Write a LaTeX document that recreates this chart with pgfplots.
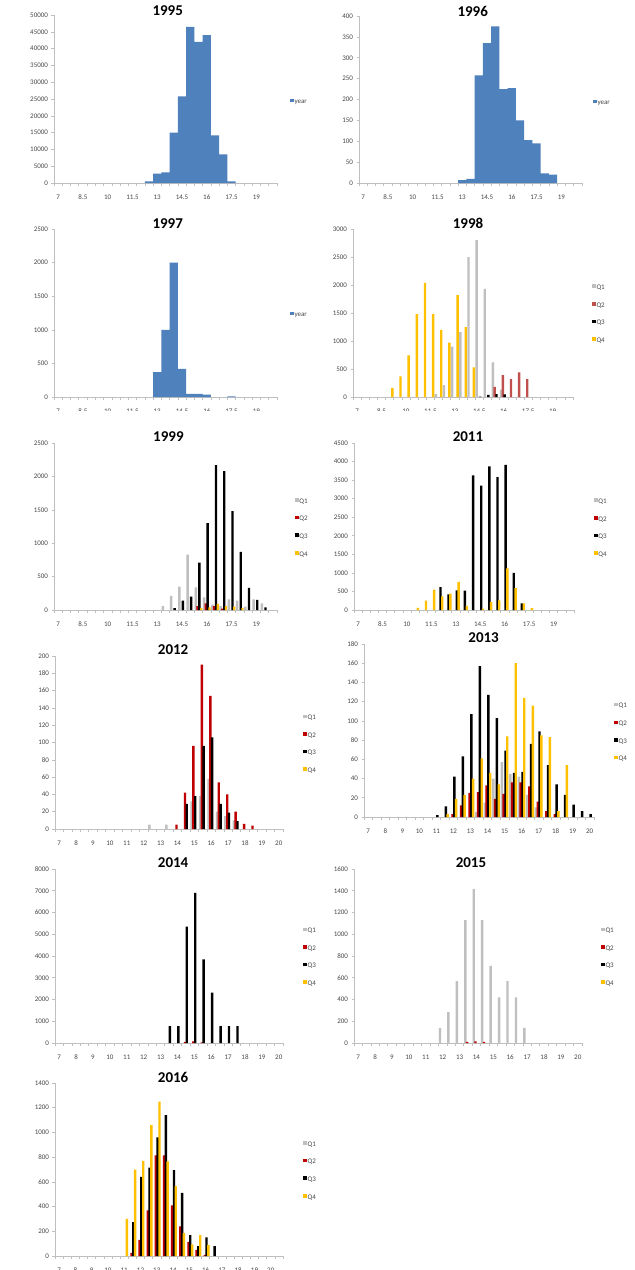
\documentclass[border=0pt]{standalone}
\usepackage{fontspec}
\setmainfont{Carlito}
\usepackage{pgfplots}
\pgfplotsset{compat=1.18}

\definecolor{xlblue}{HTML}{4F81BD}
\definecolor{qgray}{HTML}{BFBFBF}
\definecolor{qred}{HTML}{C00000}
\definecolor{qredlight}{HTML}{C0504D}
\definecolor{qgold}{HTML}{FFC000}
\definecolor{axisgray}{HTML}{BFBFBF}
\definecolor{ticktext}{HTML}{474747}

\pgfplotsset{
  panel/.style={
    scale only axis,
    anchor=south west,
    axis x line*=bottom,
    axis y line*=left,
    axis line style={draw=axisgray, line width=0.7pt, -},
    every tick/.style={draw=axisgray, line width=0.6pt},
    tick align=outside,
    major tick length=2.5pt,
    xmin=6.75, xmax=20.25, ymin=0,
    xtick={6.75,7.25,...,20.25},
    xticklabels={},
    extra x tick style={major tick length=0pt},
    scaled y ticks=false,
    yticklabel={\pgfmathprintnumber[fixed,precision=0,1000 sep={},assume math mode=true]{\tick}},
    tick label style={font=\fontsize{7}{8}\selectfont, text=ticktext},
    xticklabel style={yshift=-8.5pt},
    title style={font=\bfseries\fontsize{15}{15}\selectfont, anchor=center, text=black},
    legend style={draw=none, fill=none, inner sep=0pt, anchor=west,
      font=\fontsize{7}{8}\selectfont, text=ticktext, row sep=10pt,
      nodes={inner sep=0.8pt}},
    legend cell align=left,
    legend image code/.code={\fill[##1] (0pt,0pt) rectangle (3.6pt,3.6pt);},
  },
  halfticks/.style={
    extra x ticks={7,8.5,10,11.5,13,14.5,16,17.5,19},
    extra x tick labels={7,8.5,10,11.5,13,14.5,16,17.5,19},
  },
  unitticks/.style={
    extra x ticks={7,8,...,20},
    extra x tick labels={7,8,9,10,11,12,13,14,15,16,17,18,19,20},
  },
  hist/.style={ybar, bar width=0.5, bar shift=0pt, fill=xlblue, draw=none, forget plot},
  qbar/.style={ybar, bar width=2.4pt, draw=none, forget plot},
  q1/.style={qbar, bar shift=-2.7pt, fill=qgray},
  q2/.style={qbar, bar shift=-0.9pt, fill=qred},
  q3/.style={qbar, bar shift=0.9pt, fill=black},
  q4/.style={qbar, bar shift=2.7pt, fill=qgold},
}

\newcommand{\quarterlegend}[1]{%
  \addlegendimage{fill=qgray, draw=none}\addlegendentry{Q1}
  \addlegendimage{fill=#1, draw=none}\addlegendentry{Q2}
  \addlegendimage{fill=black, draw=none}\addlegendentry{Q3}
  \addlegendimage{fill=qgold, draw=none}\addlegendentry{Q4}}

\begin{document}
\begin{tikzpicture}
\fill[white, use as bounding box] (0pt,0pt) rectangle (635pt,-1270pt);

% ---------------- 1995 ----------------
\begin{axis}[panel, halfticks, at={(54pt,-183pt)}, width=223pt, height=168pt,
  ymax=50000, ytick={0,5000,...,50000},
  title={1995}, title style={at={(0.51,0.988)}},
  legend style={at={(1.058,0.482)}}]
\addplot[hist] coordinates {(12.5,500) (13,2800) (13.5,3200) (14,15000) (14.5,25800)
  (15,46500) (15.5,42000) (16,44000) (16.5,14200) (17,8500) (17.5,500)};
\addlegendimage{fill=xlblue, draw=none}\addlegendentry{year}
\end{axis}

% ---------------- 1996 ----------------
\begin{axis}[panel, halfticks, at={(359pt,-183pt)}, width=223pt, height=167pt,
  ymax=400, ytick={0,50,...,400},
  title={1996}, title style={at={(0.51,0.994)}},
  legend style={at={(1.049,0.479)}}]
\addplot[hist] coordinates {(13,7) (13.5,10) (14,258) (14.5,335) (15,375) (15.5,225)
  (16,227) (16.5,150) (17,103) (17.5,95) (18,23) (18.5,20)};
\addlegendimage{fill=xlblue, draw=none}\addlegendentry{year}
\end{axis}

% ---------------- 1997 ----------------
\begin{axis}[panel, halfticks, at={(54pt,-397pt)}, width=223pt, height=168pt,
  ymax=2500, ytick={0,500,...,2500},
  title={1997}, title style={at={(0.51,0.994)}},
  legend style={at={(1.058,0.488)}}]
\addplot[hist] coordinates {(13,370) (13.5,1000) (14,2000) (14.5,420) (15,45)
  (15.5,45) (16,35) (17.5,8)};
\addlegendimage{fill=xlblue, draw=none}\addlegendentry{year}
\end{axis}

% ---------------- 1998 ----------------
\begin{axis}[panel, halfticks, at={(353pt,-397pt)}, width=220pt, height=168pt,
  ymax=3000, ytick={0,500,...,3000},
  title={1998}, title style={at={(0.523,1.0)}},
  legend style={at={(1.086,0.491)}}]
\addplot[q1] coordinates {(12,50) (12.5,210) (13,900) (13.5,1160) (14,2500)
  (14.5,2800) (15,1930) (15.5,620) (16,130)};
\addplot[q2, fill=qredlight] coordinates {(15.5,180) (16,390) (16.5,320) (17,440) (17.5,320)};
\addplot[q3] coordinates {(14.5,5) (15,40) (15.5,50) (16,45)};
\addplot[q4] coordinates {(9,165) (9.5,370) (10,745) (10.5,1480) (11,2040) (11.5,1480)
  (12,1200) (12.5,970) (13,1820) (13.5,1250) (14,530)};
\quarterlegend{qredlight}
\end{axis}

% label strip below the second row
\fill[white] (0pt,-411pt) rectangle (635pt,-418pt);

% ---------------- 1999 ----------------
\begin{axis}[panel, halfticks, at={(54pt,-610pt)}, width=223pt, height=167pt,
  ymax=2500, ytick={0,500,...,2500},
  title={1999}, title style={at={(0.513,1.0)}},
  legend style={at={(1.08,0.49)}}]
\addplot[q1] coordinates {(13.5,60) (14,210) (14.5,350) (15,830) (15.5,340) (16,190)
  (16.5,80) (17,60) (17.5,160) (18,140) (18.5,50) (19,160) (19.5,100)};
\addplot[q2] coordinates {(15.5,60) (16,100) (16.5,60) (17,20)};
\addplot[q3] coordinates {(14,30) (14.5,140) (15,200) (15.5,710) (16,1300) (16.5,2170)
  (17,2080) (17.5,1480) (18,870) (18.5,330) (19,150) (19.5,40)};
\addplot[q4] coordinates {(15.5,30) (16,40) (16.5,90) (17,60) (17.5,50) (18,30)};
\quarterlegend{qred}
\end{axis}

% ---------------- 2011 ----------------
\begin{axis}[panel, halfticks, at={(354pt,-610pt)}, width=220pt, height=167pt,
  ymax=4500, ytick={0,500,...,4500},
  title={2011}, title style={at={(0.518,1.0)}},
  legend style={at={(1.09,0.488)}}]
\addplot[q3] coordinates {(12,620) (12.5,420) (13,530) (13.5,520) (14,3630) (14.5,3350)
  (15,3870) (15.5,3580) (16,3910) (16.5,1000) (17,180)};
\addplot[q4] coordinates {(10.5,60) (11,250) (11.5,550) (12,370) (12.5,440) (13,760)
  (13.5,110) (14.5,40) (15,210) (15.5,260) (16,1120) (16.5,590) (17,180) (17.5,50)};
\quarterlegend{qred}
\end{axis}

% ---------------- 2012 ----------------
\begin{axis}[panel, unitticks, at={(55pt,-829pt)}, width=228pt, height=173pt,
  ymax=200, ytick={0,20,...,200},
  title={2012}, title style={at={(0.518,1.005)}},
  legend style={at={(1.088,0.488)}}]
\addplot[q1] coordinates {(12.5,5) (13.5,5) (15,32) (15.5,38) (16,58) (16.5,20)
  (17,15) (17.5,10)};
\addplot[q2] coordinates {(14,5) (14.5,42) (15,96) (15.5,190) (16,154) (16.5,54)
  (17,40) (17.5,20) (18,6) (18.5,4)};
\addplot[q3] coordinates {(14.5,29) (15,38) (15.5,96) (16,106) (16.5,29) (17,19) (17.5,9)};
\quarterlegend{qred}
\end{axis}

% ---------------- 2013 ----------------
\begin{axis}[panel, unitticks, at={(364pt,-817pt)}, width=230pt, height=173pt,
  ymax=180, ytick={0,20,...,180},
  title={2013}, title style={at={(0.52,1.0)}},
  legend style={at={(1.087,0.486)}}]
\addplot[q1] coordinates {(13.5,5) (14,15) (14.5,40) (15,57) (15.5,45) (16,42)
  (16.5,23) (17,10)};
\addplot[q2] coordinates {(12,3) (12.5,12) (13,25) (13.5,26) (14,33) (14.5,19) (15,24)
  (15.5,36) (16,36) (16.5,32) (17,16) (17.5,6) (18,3)};
\addplot[q3] coordinates {(11,2) (11.5,11) (12,42) (12.5,63) (13,107) (13.5,157)
  (14,127) (14.5,103) (15,69) (15.5,46) (16,47) (16.5,76) (17,89) (17.5,54) (18,34)
  (18.5,23) (19,13) (19.5,6) (20,3)};
\addplot[q4] coordinates {(11.5,3) (12,19) (12.5,23) (13,40) (13.5,61) (14,46) (14.5,34)
  (15,84) (15.5,160) (16,124) (16.5,116) (17,85) (17.5,83) (18,6) (18.5,54)};
\quarterlegend{qred}
\end{axis}

% label strip below the 2012 panel
\fill[white] (0pt,-845pt) rectangle (315pt,-850pt);

% ---------------- 2014 ----------------
\begin{axis}[panel, unitticks, at={(55pt,-1043pt)}, width=228pt, height=174pt,
  ymax=8000, ytick={0,1000,...,8000},
  title={2014}, title style={at={(0.518,1.0)}},
  legend style={at={(1.088,0.491)}}]
\addplot[q2] coordinates {(14.5,50) (15,80) (15.5,30)};
\addplot[q3] coordinates {(13.5,780) (14,780) (14.5,5350) (15,6900) (15.5,3850)
  (16,2320) (16.5,780) (17,780) (17.5,780)};
\quarterlegend{qred}
\end{axis}

% ---------------- 2015 ----------------
\begin{axis}[panel, unitticks, at={(354pt,-1043pt)}, width=228pt, height=174pt,
  ymax=1600, ytick={0,200,...,1600},
  title={2015}, title style={at={(0.513,1.0)}},
  legend style={at={(1.083,0.491)}}]
\addplot[q1] coordinates {(12,140) (12.5,285) (13,570) (13.5,1130) (14,1415) (14.5,1130)
  (15,710) (15.5,420) (16,570) (16.5,420) (17,140)};
\addplot[q2] coordinates {(13.5,10) (14,15) (14.5,10)};
\quarterlegend{qred}
\end{axis}

% ---------------- 2016 ----------------
\begin{axis}[panel, unitticks, at={(55pt,-1256pt)}, width=228pt, height=173pt,
  xmax=20.75, xtick={6.75,7.25,...,20.75},
  ymax=1400, ytick={0,200,...,1400},
  title={2016}, title style={at={(0.518,1.0)}},
  legend style={at={(1.088,0.491)}}]
\addplot[q2] coordinates {(11.5,25) (12,130) (12.5,370) (13,815) (13.5,815) (14,410)
  (14.5,240) (15,115) (15.5,50) (16,10)};
\addplot[q3] coordinates {(11.5,275) (12,640) (12.5,715) (13,960) (13.5,1140) (14,695)
  (14.5,510) (15,170) (15.5,80) (16,150) (16.5,80)};
\addplot[q4] coordinates {(11,300) (11.5,700) (12,770) (12.5,1060) (13,1250) (13.5,765)
  (14,565) (14.5,185) (15,95) (15.5,170) (16,90)};
\quarterlegend{qred}
\end{axis}
\end{tikzpicture}
\end{document}
